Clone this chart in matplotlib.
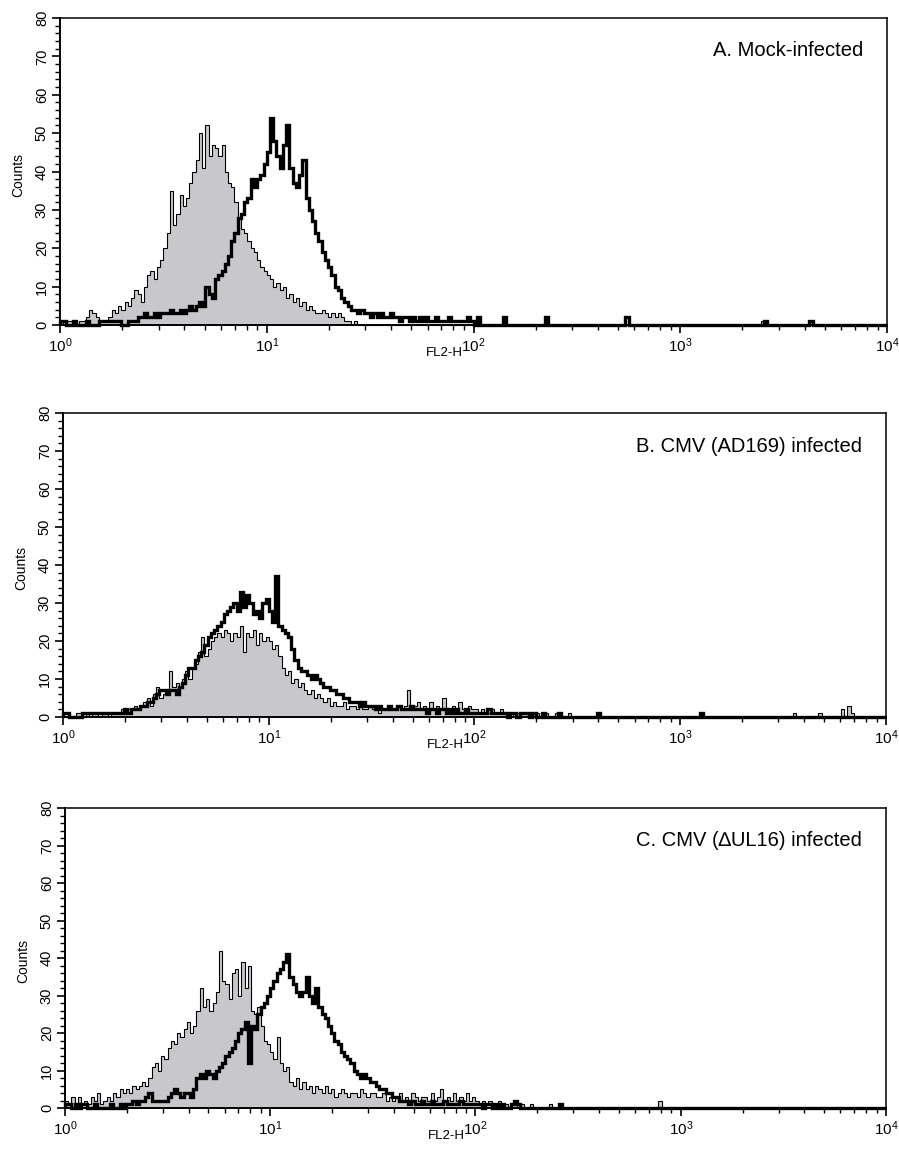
import numpy as np
import matplotlib
matplotlib.use("Agg")
import matplotlib.pyplot as plt
from matplotlib.ticker import FixedLocator, MultipleLocator, NullFormatter

plt.rcParams['font.family'] = ['Liberation Sans', 'DejaVu Sans']
plt.rcParams['mathtext.fontset'] = 'custom'
plt.rcParams['mathtext.rm'] = 'Liberation Sans'
plt.rcParams['mathtext.it'] = 'Liberation Sans:italic'

# ---------------- data: counts per channel, 64 channels per decade, FL2-H 10^0 .. 10^2.5
panel_titles = ["A. Mock-infected", "B. CMV (AD169) infected", "C. CMV (\u2206UL16) infected"]
x_tick_values = [1, 10, 100, 1000, 10000]
x_tick_labels = [r"$10^{0}$", r"$10^{1}$", r"$10^{2}$", r"$10^{3}$", r"$10^{4}$"]
y_tick_values = [0, 10, 20, 30, 40, 50, 60, 70, 80]

mock_control = [
    1, 0, 1, 1, 1, 0, 1, 1, 2, 4, 3, 2, 1, 1, 1, 2,
    4, 3, 5, 4, 6, 5, 7, 9, 8, 6, 10, 13, 14, 12, 15, 17,
    20, 24, 35, 26, 29, 34, 31, 33, 37, 40, 43, 50, 41, 52, 44, 47,
    46, 44, 47, 40, 37, 36, 32, 28, 25, 24, 22, 20, 19, 17, 15, 14,
    13, 12, 10, 11, 9, 10, 7, 8, 6, 7, 5, 6, 4, 5, 4, 3,
    3, 4, 3, 2, 3, 2, 3, 2, 1, 1, 0, 1, 0, 0, 0, 0,
]
mock_control_tail_x = [2500]
mock_control_tail_n = [1]

mock_stained = [
    1, 1, 0, 0, 1, 0, 0, 0, 1, 0, 0, 0, 1, 1, 1, 1,
    1, 1, 1, 0, 0, 1, 1, 1, 2, 2, 3, 2, 2, 3, 2, 3,
    3, 3, 4, 3, 3, 4, 3, 4, 5, 4, 5, 6, 5, 10, 8, 7,
    12, 13, 14, 16, 18, 22, 24, 28, 29, 32, 33, 38, 36, 38, 39, 42,
    45, 54, 48, 44, 41, 47, 52, 41, 37, 36, 39, 43, 33, 30, 27, 24,
    22, 19, 17, 15, 13, 10, 9, 7, 6, 5, 4, 4, 3, 4, 3, 3,
    2, 3, 2, 3, 2, 2, 3, 2, 2, 1, 2, 2, 1, 2, 1, 2,
    1, 2, 1, 1, 2, 1, 1, 1, 2, 1, 1, 1, 1, 1, 2, 1,
    0, 2, 0, 0, 0, 0, 0, 0, 0, 2, 0, 0, 0, 0, 0, 0,
    0, 0, 0, 0, 0, 0, 2, 0, 0, 0, 0, 0, 0, 0, 0, 0,
]
mock_stained_tail_x = [550, 2550, 4250]
mock_stained_tail_n = [2, 1, 1]

ad169_control = [
    0, 0, 0, 0, 1, 1, 0, 1, 0, 1, 1, 0, 1, 1, 0, 1,
    1, 1, 2, 1, 2, 2, 3, 2, 3, 4, 5, 3, 6, 8, 5, 6,
    7, 12, 8, 9, 8, 10, 12, 10, 13, 14, 17, 21, 16, 18, 20, 21,
    22, 21, 23, 22, 20, 22, 21, 24, 17, 22, 21, 23, 19, 22, 20, 21,
    20, 18, 19, 16, 13, 11, 12, 9, 10, 8, 9, 7, 6, 7, 5, 6,
    5, 4, 5, 3, 4, 3, 3, 4, 2, 3, 3, 2, 3, 2, 2, 3,
    2, 2, 1, 2, 2, 3, 2, 2, 3, 2, 3, 7, 2, 3, 4, 2,
    3, 2, 4, 2, 3, 2, 5, 2, 2, 3, 2, 4, 2, 2, 3, 2,
    2, 1, 2, 1, 1, 2, 1, 1, 2, 1, 1, 1, 0, 1, 1, 1,
    1, 0, 1, 1, 0, 0, 1, 0, 0, 1, 0, 0, 0, 1, 0, 0,
]
ad169_control_tail_x = [3600, 4800, 6200, 6500, 6800]
ad169_control_tail_n = [1, 1, 2, 3, 1]

ad169_stained = [
    1, 1, 0, 0, 0, 0, 1, 1, 1, 1, 1, 1, 1, 1, 1, 1,
    1, 1, 1, 2, 1, 2, 2, 2, 3, 3, 4, 4, 5, 6, 7, 7,
    6, 7, 7, 6, 8, 9, 11, 13, 13, 15, 16, 17, 19, 21, 22, 23,
    24, 25, 27, 28, 29, 30, 28, 33, 29, 32, 30, 27, 28, 26, 30, 31,
    28, 25, 37, 24, 23, 22, 21, 18, 15, 13, 12, 12, 11, 10, 11, 10,
    9, 8, 8, 7, 7, 6, 6, 5, 5, 4, 4, 4, 3, 4, 3, 3,
    3, 2, 3, 2, 2, 3, 2, 2, 3, 2, 2, 2, 3, 2, 2, 2,
    2, 1, 2, 2, 1, 2, 2, 1, 2, 1, 2, 1, 1, 2, 1, 1,
    1, 1, 1, 1, 2, 1, 1, 1, 1, 1, 0, 1, 1, 0, 1, 1,
    1, 0, 1, 0, 0, 1, 0, 0, 0, 0, 1, 0, 0, 0, 0, 0,
]
ad169_stained_tail_x = [400, 1250]
ad169_stained_tail_n = [1, 1]

dul16_control = [
    2, 1, 3, 1, 3, 1, 2, 1, 3, 2, 4, 1, 2, 3, 2, 4,
    3, 5, 4, 5, 4, 6, 5, 6, 7, 6, 8, 11, 12, 10, 14, 13,
    16, 18, 17, 20, 19, 21, 23, 20, 22, 26, 32, 27, 29, 26, 28, 31,
    42, 34, 33, 29, 36, 37, 30, 39, 32, 38, 26, 25, 27, 22, 18, 17,
    15, 13, 19, 12, 10, 11, 7, 6, 8, 5, 7, 5, 6, 4, 6, 5,
    4, 6, 4, 5, 3, 4, 5, 4, 3, 4, 4, 3, 5, 4, 3, 4,
    4, 3, 3, 4, 2, 3, 2, 3, 4, 2, 3, 2, 4, 3, 2, 3,
    3, 2, 4, 2, 3, 5, 2, 3, 2, 4, 2, 3, 2, 4, 2, 3,
    2, 1, 2, 1, 2, 1, 1, 2, 1, 1, 0, 1, 1, 0, 1, 0,
    0, 1, 0, 0, 0, 0, 0, 1, 0, 0, 0, 0, 0, 0, 0, 0,
]
dul16_control_tail_x = [780]
dul16_control_tail_n = [2]

dul16_stained = [
    1, 1, 0, 1, 0, 1, 1, 0, 0, 1, 0, 0, 0, 0, 1, 0,
    0, 1, 0, 1, 1, 2, 1, 2, 2, 3, 4, 2, 2, 2, 2, 2,
    3, 4, 5, 4, 3, 4, 4, 3, 5, 8, 9, 8, 10, 9, 8, 10,
    11, 12, 14, 15, 16, 18, 20, 21, 23, 12, 22, 21, 25, 27, 28, 30,
    32, 34, 36, 37, 39, 41, 35, 33, 31, 30, 31, 35, 30, 28, 32, 27,
    25, 24, 22, 20, 18, 17, 15, 14, 13, 12, 10, 9, 8, 9, 8, 7,
    7, 6, 5, 5, 4, 4, 3, 3, 2, 2, 2, 1, 2, 1, 1, 2,
    1, 1, 2, 1, 1, 1, 2, 1, 1, 1, 1, 2, 1, 1, 1, 1,
    1, 1, 0, 1, 1, 0, 1, 0, 1, 0, 0, 1, 2, 1, 0, 0,
    0, 0, 0, 0, 0, 0, 0, 0, 0, 0, 1, 0, 0, 0, 0, 0,
]
dul16_stained_tail_x = []
dul16_stained_tail_n = []

# ---------------- helpers
CH_PER_DEC = 64
N_CH = 4 * CH_PER_DEC
edges = np.logspace(0, 4, N_CH + 1)


def channel_counts(values, tail_x, tail_n):
    c = np.zeros(N_CH)
    c[:len(values)] = values
    for x, n in zip(tail_x, tail_n):
        c[int(np.log10(x) * CH_PER_DEC)] = n
    return c


panels = [
    (channel_counts(mock_control, mock_control_tail_x, mock_control_tail_n),
     channel_counts(mock_stained, mock_stained_tail_x, mock_stained_tail_n)),
    (channel_counts(ad169_control, ad169_control_tail_x, ad169_control_tail_n),
     channel_counts(ad169_stained, ad169_stained_tail_x, ad169_stained_tail_n)),
    (channel_counts(dul16_control, dul16_control_tail_x, dul16_control_tail_n),
     channel_counts(dul16_stained, dul16_stained_tail_x, dul16_stained_tail_n)),
]

W, H = 899, 1154
fig = plt.figure(figsize=(W / 100, H / 100), dpi=100)
fig.patch.set_facecolor('white')

# axes boxes in pixels: (left, top, right, bottom)
boxes = [(60, 18, 887, 325), (63, 413, 886, 717), (65, 808, 886, 1108)]
GREY = '#c8c8cc'

for (l, t, r, b), (ctrl, stain), title in zip(boxes, panels, panel_titles):
    ax = fig.add_axes([l / W, 1 - b / H, (r - l) / W, (b - t) / H])
    ax.stairs(ctrl, edges, fill=True, color=GREY, lw=0, baseline=0, zorder=1)
    ax.stairs(ctrl, edges, color='black', lw=0.8, baseline=0, zorder=2, clip_on=False)
    ax.stairs(stain, edges, color='black', lw=2.4, baseline=0, zorder=3, clip_on=False)

    ax.set_xscale('log')
    ax.set_xlim(1, 1e4)
    ax.set_ylim(0, 80)

    ax.xaxis.set_major_locator(FixedLocator(x_tick_values))
    ax.set_xticklabels(x_tick_labels)
    minors = [m * d for d in [1, 10, 100, 1000] for m in range(2, 10)]
    ax.xaxis.set_minor_locator(FixedLocator(minors))
    ax.xaxis.set_minor_formatter(NullFormatter())
    ax.yaxis.set_major_locator(FixedLocator(y_tick_values))
    ax.set_yticklabels([str(v) for v in y_tick_values])
    ax.yaxis.set_minor_locator(MultipleLocator(2))

    ax.tick_params(axis='both', which='major', direction='out', length=6, width=1.2)
    ax.tick_params(axis='both', which='minor', direction='out', length=3.5, width=1.0)
    ax.tick_params(axis='x', which='major', labelsize=11, pad=2)
    ax.tick_params(axis='y', which='major', labelsize=10.5, labelrotation=90, pad=2)
    for lab in ax.get_yticklabels():
        lab.set_va('center')

    for side in ['left', 'bottom']:
        ax.spines[side].set_linewidth(1.4)
    for side in ['top', 'right']:
        ax.spines[side].set_linewidth(1.1)

    ax.text(-42 / (r - l), 0.49, 'Counts', transform=ax.transAxes, rotation=90,
            ha='center', va='center', fontsize=10)
    ax.text(0.465, -28 / (b - t), 'FL2-H', transform=ax.transAxes,
            ha='center', va='center', fontsize=9.5)
    ax.text(1 - 24 / (r - l), 1 - 33 / (b - t), title, transform=ax.transAxes,
            ha='right', va='center', fontsize=14.5)

fig.savefig('out.png', dpi=100, facecolor='white')
